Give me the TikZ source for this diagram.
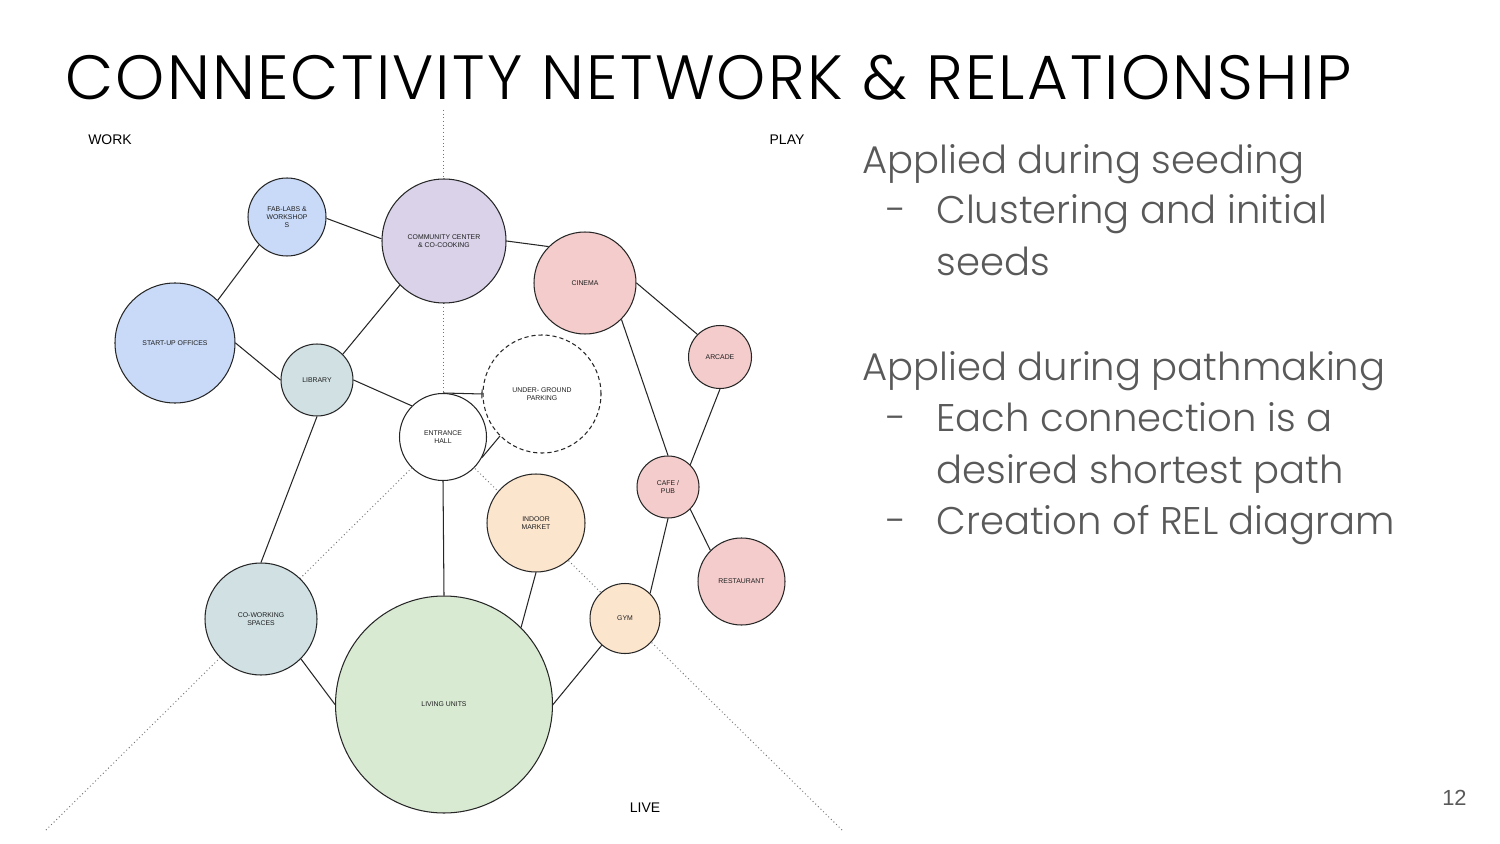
\documentclass[tikz,border=0pt]{standalone}
\usepackage{fontspec}
\setmainfont{Liberation Sans}
\newfontfamily\titlefont{Poppins}[UprightFont=* Light, LetterSpace=3.5]
\newfontfamily\bodyfont{Poppins}[UprightFont=* Light]
\usetikzlibrary{arrows.meta}

\definecolor{workblue}{HTML}{C9DAF8}
\definecolor{commpurple}{HTML}{D9D2E9}
\definecolor{playpink}{HTML}{F4CCCC}
\definecolor{civicteal}{HTML}{D0E0E3}
\definecolor{shoporange}{HTML}{FCE5CD}
\definecolor{livegreen}{HTML}{D9EAD3}
\definecolor{bodygray}{HTML}{595959}

\tikzset{
  bub/.style={circle, draw=black!85, line width=0.5pt, inner sep=0pt,
    align=center, text=black!88,
    font=\fontsize{3.3}{4}\selectfont},
  rad/.style={minimum size=#1*0.96pt},
  edge/.style={draw=black!85, line width=0.5pt},
  axis/.style={draw=black!55, line width=0.45pt, dash pattern=on 0.45pt off 1.3pt},
  zone/.style={font=\fontsize{6.7}{8}\selectfont, text=black},
  body/.style={anchor=base west, inner sep=0pt, text=bodygray,
    font=\bodyfont\fontsize{18.5}{22}\selectfont},
}

\begin{document}
\begin{tikzpicture}[x=0.48pt,y=-0.48pt]
\useasboundingbox[fill=white] (0,0) rectangle (1500,844);

% title
\node[anchor=base west, inner sep=0pt, font=\titlefont\fontsize{30}{36}\selectfont]
  (title) at (65,100) {CONNECTIVITY NETWORK \& RELATIONSHIP};

% the three axes meet at the entrance hall
\coordinate (hub) at (443,437);
\coordinate (topend) at (443,110);
\coordinate (swend) at (46,830);
\coordinate (seend) at (842,830);
\draw[axis] (topend) -- (hub);
\draw[axis] (swend) -- (hub);
\draw[axis] (seend) -- (hub);

% zone labels
\node[zone] (work) at (110,140) {WORK};
\node[zone] (play) at (787,140) {PLAY};
\node[zone] (live) at (645,808) {LIVE};

% programme bubbles
\node[bub, rad=39, fill=workblue]   (fab)   at (287,217) {FAB-LABS \&\\WORKSHOP\\S};
\node[bub, rad=62, fill=commpurple] (comm)  at (444,241) {COMMUNITY CENTER\\\& CO-COOKING};
\node[bub, rad=60, fill=workblue]   (start) at (175,343) {START-UP OFFICES};
\node[bub, rad=36, fill=civicteal]  (lib)   at (317,380) {LIBRARY};
\node[bub, rad=51, fill=playpink]   (cine)  at (585,283) {CINEMA};
\node[bub, rad=31.5, fill=playpink] (arc)   at (720,357) {ARCADE};
\node[bub, rad=59, fill=white, dashed, dash pattern=on 2pt off 1.4pt]
                                    (park)  at (542,394) {UNDER- GROUND\\PARKING};
\node[bub, rad=43.5, fill=white]    (entr)  at (443,437) {ENTRANCE\\HALL};
\node[bub, rad=31, fill=playpink]   (cafe)  at (668,487) {CAFE /\\PUB};
\node[bub, rad=49, fill=shoporange] (mkt)   at (536,523) {INDOOR\\MARKET};
\node[bub, rad=56, fill=civicteal]  (cowork) at (261,619) {CO-WORKING\\SPACES};
\node[bub, rad=108.5, fill=livegreen] (living) at (444,704.5) {LIVING UNITS};
\node[bub, rad=35, fill=shoporange] (gym)   at (625,618.5) {GYM};
\node[bub, rad=43.5, fill=playpink] (rest)  at (741.5,581.5) {RESTAURANT};

% connections, attached at fixed points on each bubble
\draw[edge] (fab.225) -- (start.45);
\draw[edge] (fab.-2) -- (comm.178);
\draw[edge] (comm.0) -- (cine.135);
\draw[edge] (comm.225) -- (lib.45);
\draw[edge] (start.0) -- (lib.180);
\draw[edge] (lib.0) -- (entr.135);
\draw[edge] (lib.-90) -- (cowork.90);
\draw[edge] (cine.0) -- (arc.135);
\draw[edge] (cine.-45) -- (cafe.90);
\draw[edge] (arc.-90) -- (cafe.45);
\draw[edge] (cafe.-45) -- (rest.135);
\draw[edge] (gym.45) -- (cafe.-90);
\draw[edge, -{Bar[width=4.3pt]}] (entr.north) -- (park.west);
\draw[edge] (entr.-28) -- (park.225);
\draw[edge] (entr.-90) -- (living.90);
\draw[edge] (mkt.-90) -- (living.45);
\draw[edge] (gym.229) -- (living.0);
\draw[edge] (cowork.-45) -- (living.180);

% notes
\node[body] (n1) at (862,174) {Applied during seeding};
\node[body] (d1) at (886,224) {-};
\node[body] (n2) at (936,224) {Clustering and initial};
\node[body] (n3) at (936,276) {seeds};
\node[body] (n4) at (862,381) {Applied during pathmaking};
\node[body] (d2) at (886,431) {-};
\node[body] (n5) at (936,431) {Each connection is a};
\node[body] (n6) at (936,483) {desired shortest path};
\node[body] (d3) at (886,534) {-};
\node[body] (n7) at (936,534) {Creation of REL diagram};

% page number
\node[anchor=base east, inner sep=0pt, text=bodygray, font=\fontsize{10.5}{12}\selectfont]
  (pageno) at (1467,805) {12};
\end{tikzpicture}
\end{document}
